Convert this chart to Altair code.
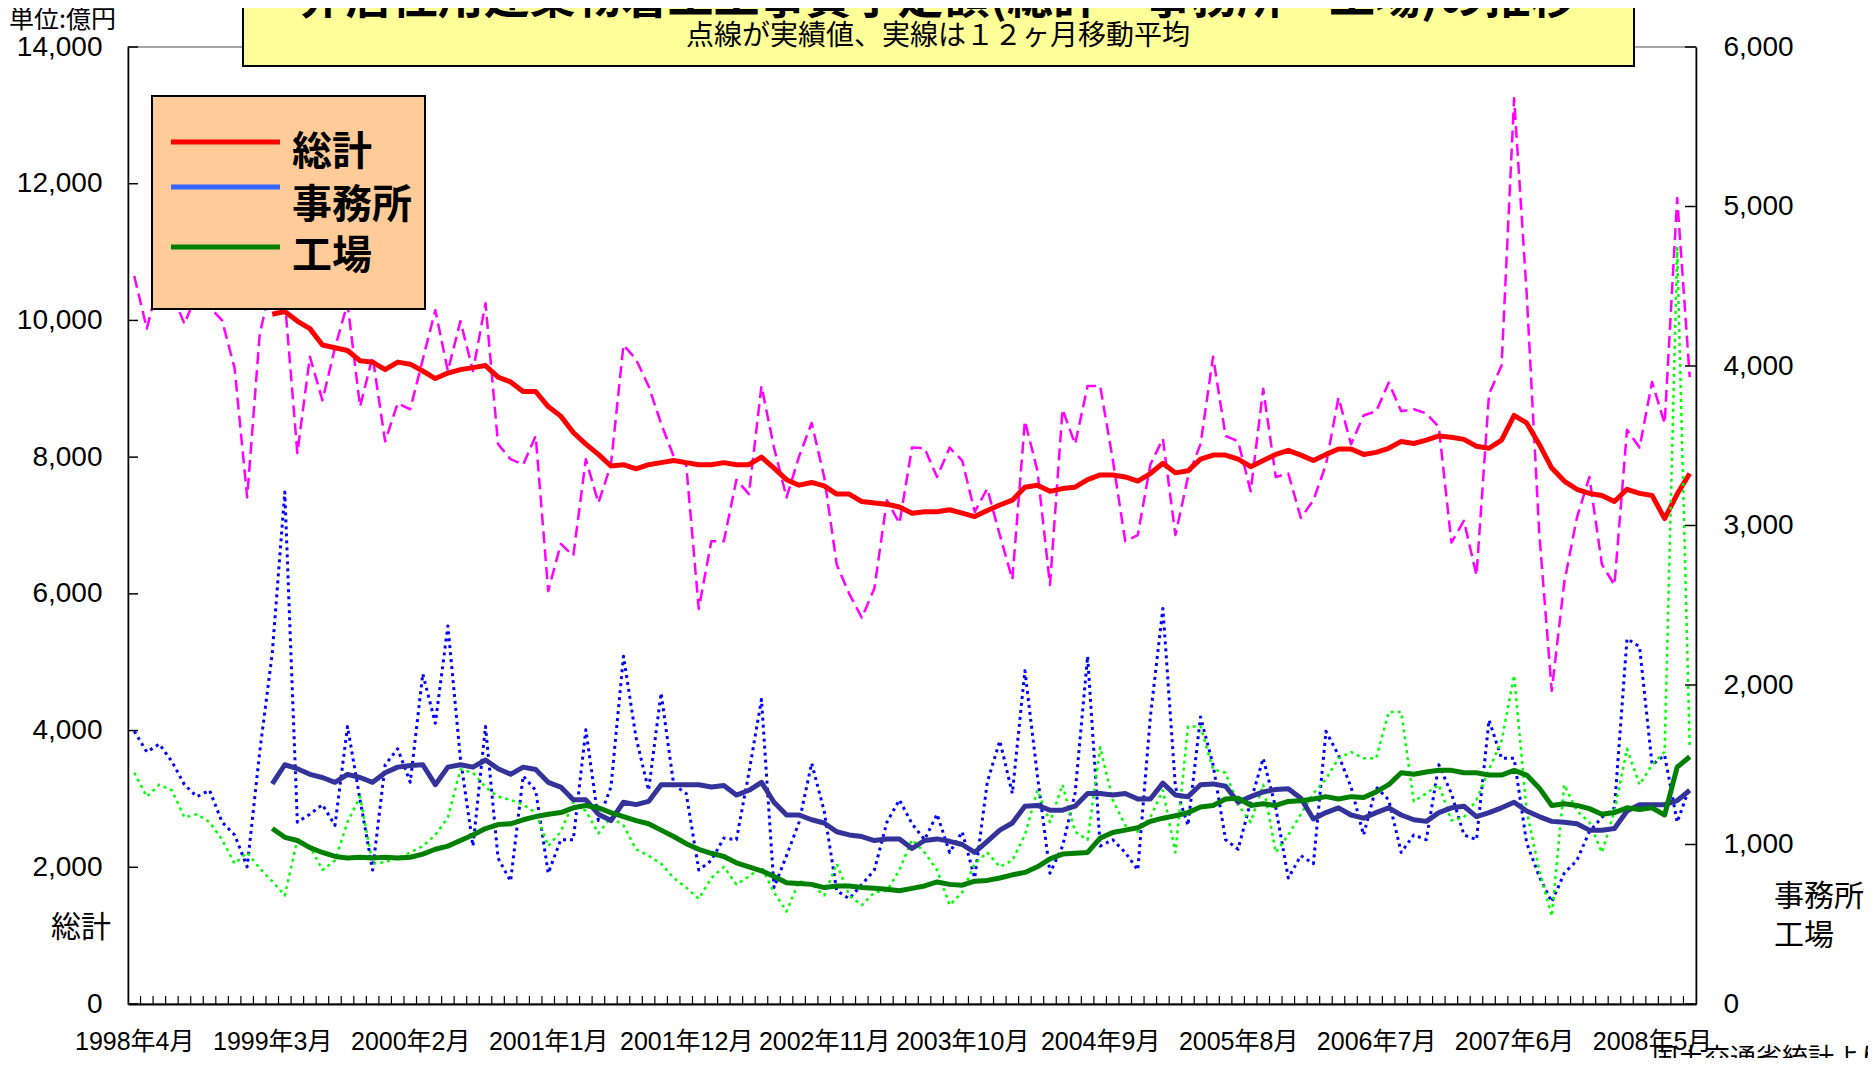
import altair as alt
import pandas as pd

# ---------------- data ----------------
MONTHS = 125          # 1998年4月 .. 2008年8月
MA_START = 11         # 12ヶ月移動平均 starts at 1999年3月
x_labels = ["1998年4月", "1999年3月", "2000年2月", "2001年1月", "2001年12月",
            "2002年11月", "2003年10月", "2004年9月", "2005年8月", "2006年7月",
            "2007年6月", "2008年5月"]
label_step = 11

total_actual = [10650, 9880, 10600, 10400, 9950, 10400, 10200, 10000, 9300, 7410,
                9800, 10600, 10300, 8060, 9470, 8830, 9600, 10250, 8740, 9470,
                8230, 8790, 8700, 9430, 10150, 9260, 9990, 9260, 10250, 8190,
                7970, 7890, 8310, 6040, 6730, 6560, 7970, 7330, 7890, 9640,
                9430, 9040, 8490, 8010, 7890, 5780, 6770, 6770, 7670, 7460,
                9040, 8140, 7410, 8010, 8500, 7710, 6430, 6000, 5650, 6080,
                7370, 7030, 8140, 8130, 7710, 8140, 7950, 7200, 7540, 6860,
                6210, 8530, 7800, 6130, 8700, 8190, 9040, 9040, 7970, 6770,
                6860, 7890, 8270, 6860, 7710, 8190, 9470, 8310, 8230, 7500,
                9000, 7710, 7760, 7110, 7370, 7890, 8870, 8190, 8610, 8670,
                9090, 8670, 8700, 8640, 8440, 6750, 7070, 6270, 8920, 9340,
                13250, 10400, 6900, 4580, 6170, 7110, 7710, 6430, 6130, 8400,
                8140, 9100, 8490, 11790, 9170]

office_actual = [1710, 1580, 1630, 1520, 1375, 1300, 1340, 1140, 1060, 860,
                 1580, 2200, 3210, 1140, 1190, 1250, 1120, 1740, 1280, 840,
                 1500, 1600, 1390, 2070, 1760, 2370, 1540, 990, 1740, 915,
                 770, 1430, 1340, 820, 1030, 1030, 1720, 1150, 1360, 2180,
                 1670, 1340, 1950, 1375, 1320, 840, 900, 1040, 1030, 1450,
                 1910, 730, 930, 1140, 1510, 1210, 710, 660, 750, 840,
                 1140, 1280, 1130, 1030, 1190, 950, 1080, 790, 1390, 1650,
                 1320, 2090, 1430, 820, 990, 1320, 2180, 990, 1030, 950,
                 840, 1800, 2480, 1360, 1120, 1800, 1500, 1030, 970, 1270,
                 1540, 1230, 790, 930, 880, 1710, 1560, 1360, 1060, 1360,
                 1280, 950, 1060, 1030, 1500, 1320, 1060, 1030, 1780, 1540,
                 1540, 1010, 800, 640, 820, 900, 1080, 1170, 1230, 2290,
                 2240, 1500, 1560, 1140, 1360]

factory_actual = [1450, 1300, 1375, 1340, 1170, 1190, 1140, 1030, 880, 950,
                  850, 770, 680, 1030, 990, 840, 900, 1140, 1300, 880,
                  890, 915, 950, 990, 1060, 1170, 1470, 1450, 1360, 1300,
                  1280, 1250, 1200, 990, 1080, 1265, 1210, 1070, 1170, 1120,
                  970, 930, 880, 790, 730, 660, 790, 860, 750, 800,
                  860, 700, 580, 770, 750, 680, 880, 680, 620, 700,
                  710, 840, 1030, 950, 840, 620, 700, 880, 950, 860,
                  900, 1060, 1340, 1140, 1375, 1080, 1030, 1610, 1280, 1120,
                  1080, 1170, 1340, 950, 1740, 1740, 1470, 1450, 1250, 1140,
                  1375, 950, 1060, 1190, 1320, 1410, 1540, 1580, 1540, 1540,
                  1830, 1830, 1270, 1320, 1375, 1150, 1170, 1280, 1470, 1650,
                  2060, 1210, 840, 550, 1375, 1210, 1140, 950, 1210, 1600,
                  1375, 1500, 1580, 4740, 1610]

total_ma = [10090, 10130, 9990, 9880, 9640, 9600, 9560, 9410, 9390, 9280,
            9390, 9360, 9260, 9150, 9230, 9280, 9310, 9340, 9170, 9100,
            8960, 8960, 8740, 8600, 8360, 8190, 8040, 7870, 7890, 7830,
            7890, 7920, 7950, 7920, 7890, 7890, 7920, 7890, 7890, 8000,
            7840, 7670, 7590, 7630, 7580, 7460, 7460, 7350, 7330, 7310,
            7270, 7180, 7200, 7200, 7230, 7180, 7130, 7220, 7300, 7370,
            7560, 7590, 7500, 7540, 7560, 7670, 7740, 7740, 7710, 7650,
            7760, 7910, 7770, 7800, 7970, 8030, 8030, 7970, 7860, 7950,
            8040, 8100, 8030, 7950, 8040, 8120, 8120, 8040, 8070, 8130,
            8230, 8200, 8250, 8310, 8290, 8260, 8160, 8130, 8250, 8610,
            8500, 8190, 7840, 7650, 7530, 7470, 7440, 7350, 7530, 7470,
            7440, 7100, 7460, 7760]

office_ma = [1380, 1500, 1475, 1440, 1420, 1390, 1440, 1420, 1390, 1450,
             1485, 1495, 1500, 1375, 1485, 1500, 1485, 1530, 1475, 1440,
             1485, 1470, 1390, 1360, 1280, 1280, 1190, 1150, 1265, 1250,
             1270, 1375, 1375, 1375, 1375, 1360, 1370, 1310, 1340, 1390,
             1265, 1185, 1185, 1155, 1135, 1080, 1060, 1050, 1025, 1035,
             1035, 975, 1025, 1035, 1020, 1000, 950, 1020, 1090, 1135,
             1240, 1245, 1215, 1215, 1240, 1320, 1320, 1310, 1320, 1285,
             1285, 1385, 1310, 1300, 1375, 1380, 1365, 1265, 1300, 1330,
             1345, 1350, 1290, 1160, 1200, 1230, 1185, 1165, 1200, 1230,
             1185, 1155, 1145, 1200, 1230, 1240, 1175, 1200, 1230, 1265,
             1210, 1175, 1145, 1140, 1130, 1090, 1090, 1100, 1210, 1250,
             1250, 1250, 1275, 1340]

factory_ma = [1100, 1045, 1025, 980, 950, 925, 915, 920, 915, 920,
              915, 920, 940, 970, 990, 1025, 1060, 1100, 1125, 1130,
              1155, 1175, 1190, 1200, 1230, 1245, 1230, 1200, 1175, 1150,
              1130, 1090, 1050, 1005, 970, 945, 925, 885, 860, 835,
              800, 760, 755, 750, 730, 740, 740, 730, 725, 720,
              710, 725, 740, 765, 750, 745, 770, 775, 790, 810,
              825, 860, 910, 940, 945, 950, 1040, 1075, 1090, 1105,
              1145, 1165, 1180, 1200, 1235, 1245, 1285, 1290, 1245, 1255,
              1245, 1270, 1275, 1285, 1300, 1285, 1300, 1295, 1330, 1375,
              1450, 1440, 1455, 1465, 1465, 1450, 1450, 1435, 1435, 1465,
              1435, 1355, 1245, 1255, 1245, 1225, 1190, 1200, 1230, 1220,
              1230, 1185, 1485, 1550]

left_ticks = [0, 2000, 4000, 6000, 8000, 10000, 12000, 14000]
right_ticks = [0, 1000, 2000, 3000, 4000, 5000, 6000]

legend_names = ["総計", "事務所", "工場"]
legend_colors = ["#FF0000", "#3366FF", "#008000"]


def frame(values, start):
    return pd.DataFrame({"pos": [start + k + 0.5 for k in range(len(values))],
                         "value": values})


# ---------------- layout constants ----------------
W, H = 1568, 957
NUM_FONT = "Liberation Sans, Noto Sans CJK JP"
JP_FONT = "Noto Sans CJK JP"

x_label_expr = "[" + ",".join("'%s'" % s for s in x_labels) + "][floor(datum.value/%d)]" % label_step
x_enc = alt.X("pos:Q",
              scale=alt.Scale(domain=[0, MONTHS], nice=False, zero=False),
              axis=alt.Axis(values=[k * label_step + 0.5 for k in range(len(x_labels))],
                            labelExpr=x_label_expr, ticks=False, grid=False, title=None,
                            labelFontSize=25, labelFont=NUM_FONT, labelColor="black",
                            labelPadding=25, labelFlush=False, labelOverlap=False,
                            domainColor="black", domainWidth=2))

left_scale = alt.Scale(domain=[0, 14000], nice=False, zero=True)
right_scale = alt.Scale(domain=[0, 6000], nice=False, zero=True)
left_axis = alt.Axis(orient="left", values=left_ticks, format=",d", ticks=False, grid=False,
                     title=None, labelFontSize=28, labelFont=NUM_FONT, labelColor="black",
                     labelPadding=26, domainColor="black", domainWidth=1.5, labelFlush=False)
right_axis = alt.Axis(orient="right", values=right_ticks, format=",d", ticks=False, grid=False,
                      title=None, labelFontSize=28, labelFont=NUM_FONT, labelColor="black",
                      labelPadding=27, domainColor="black", domainWidth=1.5, labelFlush=False)


def series(values, start, color, width, dash, scale, axis):
    kw = dict(color=color, strokeWidth=width, strokeJoin="round")
    if dash:
        kw["strokeDash"] = dash
    return alt.Chart(frame(values, start)).mark_line(**kw).encode(
        x=x_enc, y=alt.Y("value:Q", scale=scale, axis=axis))


# left (総計) layer
pink = series(total_actual, 0, "#FF00FF", 2.5, [12, 6], left_scale, left_axis)
red = series(total_ma, MA_START, "#FF0000", 5, None, left_scale, left_axis)
lt = alt.Chart(pd.DataFrame({"v": left_ticks})).mark_rule(color="black", strokeWidth=1.5).encode(
    y=alt.Y("v:Q", scale=left_scale, axis=left_axis), x=alt.value(0), x2=alt.value(10))
left_layer = alt.layer(pink, red, lt)

# right (事務所・工場) layer
blue = series(office_actual, 0, "#0000FF", 3, [3, 4], right_scale, right_axis)
lime = series(factory_actual, 0, "#00FF00", 2.5, [3, 4], right_scale, right_axis)
navy = series(office_ma, MA_START, "#333399", 5, None, right_scale, right_axis)
green = series(factory_ma, MA_START, "#008000", 5, None, right_scale, right_axis)
rt = alt.Chart(pd.DataFrame({"v": right_ticks})).mark_rule(color="black", strokeWidth=1.5).encode(
    y=alt.Y("v:Q", scale=right_scale, axis=right_axis), x=alt.value(W - 11), x2=alt.value(W))
right_layer = alt.layer(blue, lime, navy, green, rt)

# monthly minor ticks on the x axis (inward)
month_ticks = alt.Chart(pd.DataFrame({"pos": list(range(1, MONTHS))})).mark_rule(
    color="black", strokeWidth=1.2).encode(x=x_enc, y=alt.value(H - 8), y2=alt.value(H))

one = pd.DataFrame({"a": [0]})


def text(s, x, y, size, align="left", weight="normal", font=JP_FONT, baseline="middle"):
    return alt.Chart(one).mark_text(text=s, align=align, baseline=baseline, fontSize=size,
                                    font=font, fontWeight=weight, color="black").encode(
        x=alt.value(x), y=alt.value(y))


# title box
title_box = alt.Chart(one).mark_rect(fill="#FFFF99", stroke="black", strokeWidth=2).encode(
    x=alt.value(115), x2=alt.value(1506), y=alt.value(-70), y2=alt.value(19))
title_main = text("非居住用建築物着工工事費予定額(総計・事務所・工場)の推移", 810, -34, 46,
                  align="center", weight="bold", baseline="alphabetic")
title_sub = text("点線が実績値、実線は１２ヶ月移動平均", 810, -10, 28, align="center")

# legend
legend_box = alt.Chart(one).mark_rect(fill="#FFCC99", stroke="black", strokeWidth=2).encode(
    x=alt.value(24), x2=alt.value(297), y=alt.value(49), y2=alt.value(262))
legend_parts = []
for name, col, ly, ty in zip(legend_names, legend_colors, [95, 140, 200], [106, 159, 210]):
    legend_parts.append(alt.Chart(one).mark_rule(color=col, strokeWidth=5).encode(
        x=alt.value(43), x2=alt.value(152), y=alt.value(ly)))
    legend_parts.append(text(name, 164, ty, 40, weight="bold"))

annotations = alt.layer(
    month_ticks,
    title_box, title_main, title_sub,
    legend_box, *legend_parts,
    text("単位:億円", -12, -27, 25, align="right"),
    text("総計", -47, 881, 30, align="center"),
    text("事務所", 1646, 850, 30),
    text("工場", 1646, 889, 30),
    text("国土交通省統計より", 1524, 1012, 26),
)

chart = alt.layer(left_layer, right_layer, annotations).resolve_scale(
    y="independent"
).properties(
    width=W, height=H,
    autosize=alt.AutoSizeParams(type="none"),
    padding={"left": 120, "top": 39, "right": 172, "bottom": 54},
    background="white",
).configure_view(stroke="#888888", strokeWidth=1.5)

chart.save("out.html", embed_options={"renderer": "svg", "actions": False})
